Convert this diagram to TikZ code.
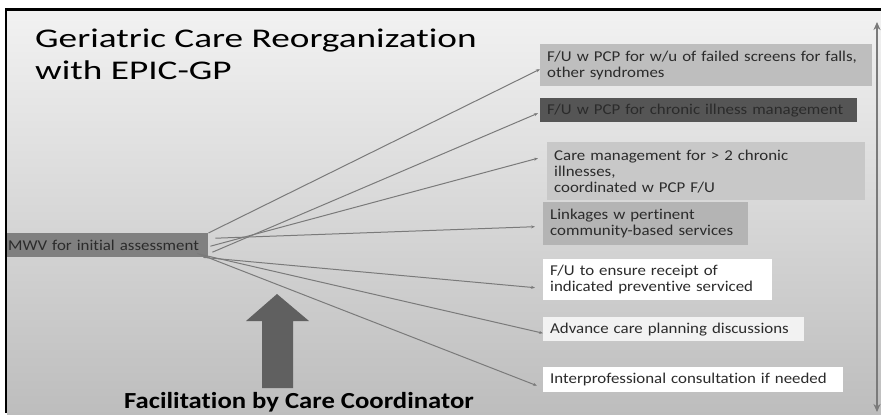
\documentclass[tikz,border=0pt]{standalone}
\usepackage{fontspec}
\setmainfont{Carlito}
\newfontfamily\titlefont[FakeStretch=1.38, Ligatures=NoCommon]{Carlito}
\newfontfamily\servfont[FakeStretch=1.125, Ligatures=NoCommon]{Carlito}
\newfontfamily\footfont[FakeStretch=1.16, Ligatures=NoCommon]{Carlito}
\usetikzlibrary{arrows.meta}

\definecolor{slidetop}{HTML}{F2F2F2}
\definecolor{slidebot}{HTML}{BDBDBD}
\definecolor{lightbox}{HTML}{BEBEBE}
\definecolor{darkbox}{HTML}{555555}
\definecolor{midbox}{HTML}{808080}
\definecolor{boxtext}{HTML}{2B2B2B}
\definecolor{linkgray}{HTML}{7A7A7A}
\definecolor{bigarrow}{HTML}{606060}

\begin{document}
\begin{tikzpicture}[x=1pt, y=-1pt]
    \tikzstyle{box}=[anchor=north west, inner xsep=7pt, inner ysep=0pt, align=left,
                     text=boxtext, font=\servfont\fontsize{15}{16}\selectfont]
    \tikzstyle{link}=[draw=linkgray, line width=1pt, -{Stealth[length=4pt, width=3pt]}]

    \useasboundingbox (0, 0) rectangle (881, 415);
    \shade[top color=slidetop, bottom color=slidebot] (7, 9) rectangle (881, 415);
    \draw[line width=3pt] (5, 9.5) -- (881, 9.5);
    \draw[line width=2.5pt] (6, 8) -- (6, 413);

    \node[anchor=north west, inner sep=0pt, align=left, font=\titlefont\fontsize{27}{32}\selectfont] (title) at (35, 29)
        {Geriatric Care Reorganization\\with EPIC-GP};

    \node[box, fill=midbox, inner xsep=1pt, minimum height=24pt, text width=199pt] (mwv) at (7, 233)
        {MWV for initial assessment};

    \node[box, fill=lightbox, minimum height=42pt, text width=318pt] (b1) at (540, 44)
        {F/U w PCP for w/u of failed screens for falls,\\other syndromes};
    \node[box, fill=darkbox, minimum height=24pt, text width=303pt] (b2) at (540, 98)
        {F/U w PCP for chronic illness management};
    \node[box, fill=lightbox!85!white, minimum height=58pt, text width=304pt] (b3) at (547, 142)
        {Care management for > 2 chronic\\illnesses,\\coordinated w PCP F/U};
    \node[box, fill=lightbox!95!black, minimum height=43pt, text width=191pt] (b4) at (543, 202)
        {Linkages w pertinent\\community-based services};
    \node[box, fill=white, minimum height=41pt, text width=215pt] (b5) at (543, 259)
        {F/U to ensure receipt of\\indicated preventive serviced};
    \node[box, fill=white!95!black, minimum height=24pt, text width=247pt] (b6) at (543, 317)
        {Advance care planning discussions};
    \node[box, fill=white, minimum height=25pt, text width=286pt] (b7) at (543, 367)
        {Interprofessional consultation if needed};

    % links from the assessment to each service
    \draw[link] (mwv.north east) -- ([yshift=-4pt]b1.west);
    \draw[link] ([xshift=4pt, yshift=-7pt]mwv.east) -- ([xshift=-2pt, yshift=-3pt]b2.west);
    \draw[link] ([xshift=2pt, yshift=-1pt]mwv.east) -- ([xshift=-9pt, yshift=13pt]b3.west);
    \draw[link] ([xshift=7pt, yshift=7pt]mwv.east) -- ([xshift=-8pt, yshift=-3pt]b4.west);
    \draw[link] ([xshift=-5pt]mwv.south east) -- ([xshift=-8pt, yshift=-8pt]b5.west);
    \draw[link] ([xshift=-8pt, yshift=3pt]mwv.south east) -- ([yshift=-4pt]b6.west);
    \draw[link] ([xshift=-11pt, yshift=4pt]mwv.south east) -- ([xshift=-6pt, yshift=-6pt]b7.west);

    % facilitation arrow
    \fill[bigarrow] (262, 388) -- (262, 321) -- (246, 321) -- (277, 294) -- (309, 321)
        -- (293, 321) -- (293, 388) -- cycle;
    \node[anchor=base, inner sep=0pt, font=\footfont\fontsize{23}{26}\selectfont\bfseries] (facil) at (299, 408)
        {Facilitation by Care Coordinator};

    % span of services
    \coordinate (spantop) at (877, 22);
    \coordinate (spanbot) at (877, 412);
    \draw[draw=linkgray, line width=2pt, {Stealth[length=8pt, width=7pt]}-{Stealth[length=8pt, width=7pt]}]
        (spantop) -- (spanbot);
\end{tikzpicture}
\end{document}
